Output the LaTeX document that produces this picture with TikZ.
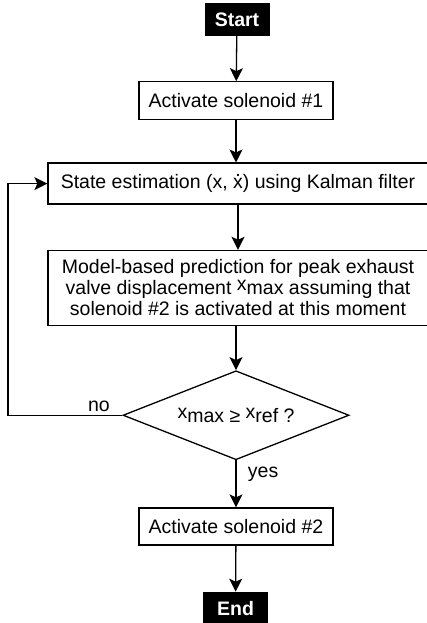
\documentclass[tikz,border=0pt]{standalone}
\usepackage{fontspec}
\setmainfont{Liberation Sans}
\usetikzlibrary{positioning,shapes.geometric,arrows.meta}

% x con subindice a la altura del texto
\newcommand{\xsub}[1]{\raisebox{4.5pt}{x}#1}
% x con punto
\newcommand{\xpunto}{\ooalign{x\cr\hidewidth\raisebox{0.62em}{.}\hidewidth\cr}}

\tikzset{
  texto/.style={font=\fontsize{19.5}{21}\selectfont},
  caja/.style={draw,line width=1.3pt,inner sep=0pt,align=center},
  terminal/.style={fill=black,text=white,font=\fontsize{19.5}{21}\selectfont\bfseries,minimum width=65pt,minimum height=33pt,inner sep=0pt},
  decision/.style={diamond,draw,line width=1.3pt,inner sep=0pt,minimum width=226pt,minimum height=89pt,aspect=2.54},
  flecha/.style={line width=1.3pt,-{Stealth[length=13pt,width=13pt,inset=3pt]}}
}

\begin{document}
\begin{tikzpicture}[x=1pt,y=1pt,texto]
  \useasboundingbox (0,0) rectangle (427,623);
  % Inicio
  \node[terminal] (inicio) at (237,603.5) {Start};
  % Solenoide 1
  \node[caja,minimum width=194pt,minimum height=38pt,below=45pt of inicio,xshift=-1pt] (sol1) {Activate solenoid \#1};
  % Estimacion de estado
  \node[caja,minimum width=380pt,minimum height=41pt,below=42pt of sol1,xshift=2pt] (estado) {State estimation (x, \xpunto) using Kalman filter};
  % Prediccion
  \node[caja,minimum width=380pt,minimum height=75pt,below=45pt of estado] (modelo) {Model-based prediction for peak exhaust\\valve displacement \xsub{max} assuming that\\solenoid \#2 is activated at this moment};
  % Condicion
  \node[decision,below=44pt of modelo,xshift=-2pt] (cond) {\xsub{max} ≥ \xsub{ref} ?};
  % Solenoide 2
  \node[caja,minimum width=194pt,minimum height=37pt,below=47pt of cond] (sol2) {Activate solenoid \#2};
  % Fin
  \node[terminal,below=46pt of sol2,xshift=-0.5pt] (fin) {End};
  % Flechas
  \draw[flecha] (inicio) -- (sol1);
  \draw[flecha] (sol1) -- (sol1 |- estado.north);
  \draw[flecha] (modelo |- estado.south) -- (modelo |- modelo.north);
  \draw[flecha] (cond |- modelo.south) -- (cond.north);
  \draw[flecha] (cond) -- (sol2) node[pos=0.3,right=8pt] {yes};
  \draw[flecha] (sol2) -- (fin);
  % Retorno
  \coordinate (borde) at (8,0);
  \draw[flecha] (cond.west) -- (cond.west -| borde) |- (estado.west);
  \node[above left=0pt and 9pt of cond.west] (no) {no};
\end{tikzpicture}
\end{document}
